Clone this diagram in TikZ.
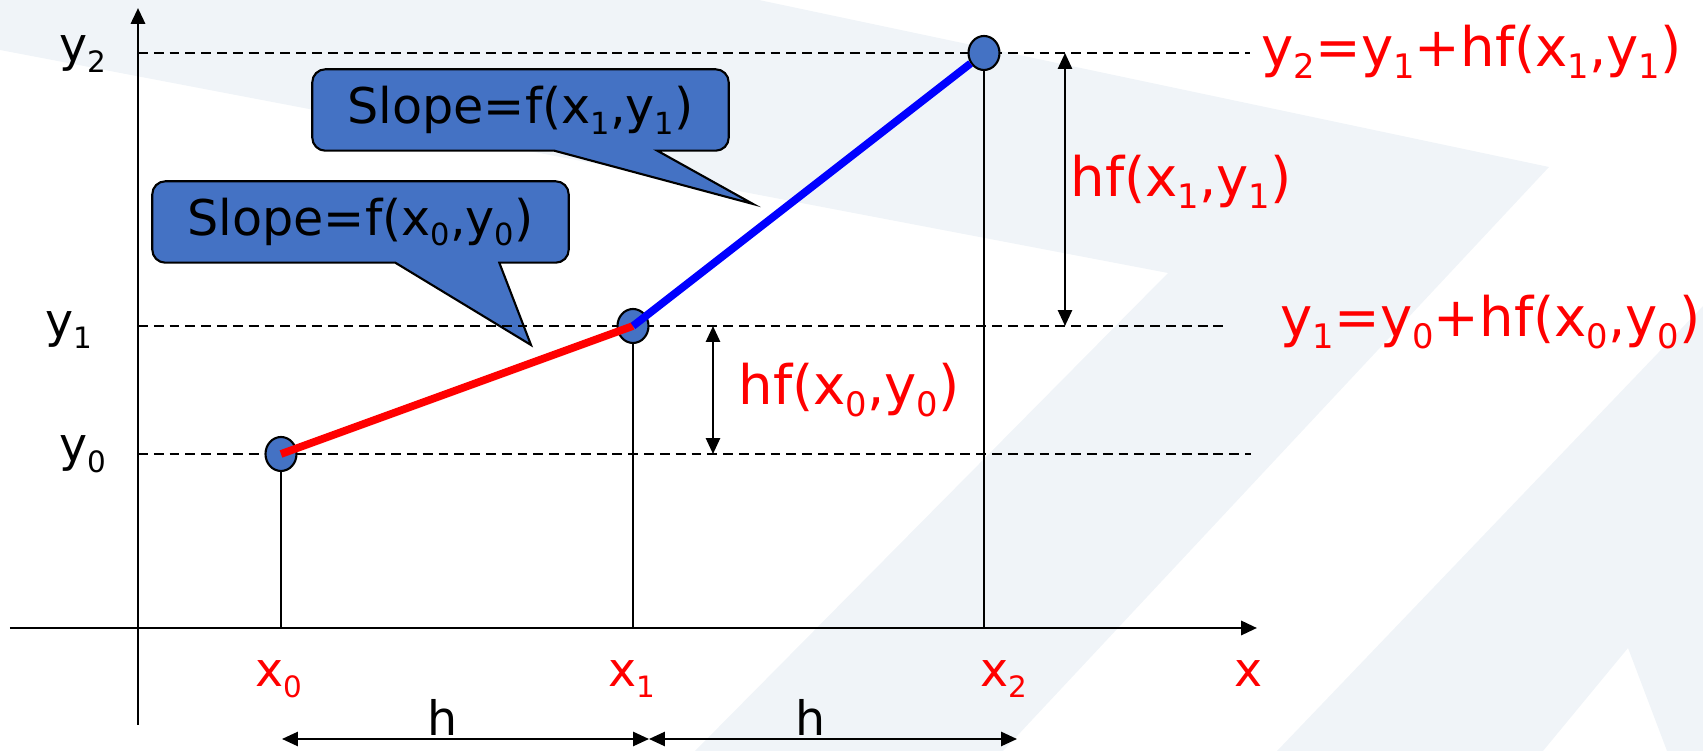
\documentclass[tikz,border=0pt]{standalone}
\usepackage{fontspec}
\setmainfont{DejaVu Sans}
\usepackage{graphicx}
\usetikzlibrary{arrows.meta, calc, shapes.geometric, backgrounds}
\definecolor{SlopeBlue}{HTML}{4472C4}
\definecolor{WaterMark}{HTML}{F0F4F8}
% small lowered index, as in the slide
\newcommand{\sbs}[1]{\raisebox{-0.22em}{\scalebox{0.62}{#1}}}

\begin{document}
\begin{tikzpicture}[>={Triangle[length=4.5pt, width=4pt]},
  lbl/.style={font=\fontsize{13.5}{16}\selectfont, inner sep=0pt},
  redlbl/.style={font=\fontsize{15.5}{18}\selectfont, text=red, inner sep=0pt},
  dot/.style={ellipse, draw, line width=0.6pt, fill=SlopeBlue,
    minimum width=0.31cm, minimum height=0.34cm, inner sep=0pt},
  slopebox/.style={minimum width=4.15cm, minimum height=0.8cm,
    font=\fontsize{14}{16}\selectfont},
  calloutline/.style={draw, line width=0.6pt, fill=SlopeBlue},
  guide/.style={dash pattern=on 2.8pt off 1.7pt, line width=0.55pt}]
  \useasboundingbox (-1.38,-1.23) rectangle (15.65,6.28);

  % Watermark in the background
  \begin{scope}[on background layer]
    \fill[WaterMark] (-1.38,6.28) -- (6.21,6.28) -- (14.11,4.61) -- (8.65,-1.23)
      -- (5.57,-1.23) -- (10.30,3.55) -- (-1.38,5.78) -- cycle;
    \fill[WaterMark] (15.65,3.22) -- (11.39,-1.23) -- (14.05,-1.23) -- (14.90,-0.20)
      -- (15.29,-1.23) -- (15.65,-1.23) -- cycle;
  \end{scope}

  % Euler points (x_i, y_i)
  \coordinate (o) at (0,0);
  \coordinate (c0) at (1.43,1.74);
  \coordinate (c1) at (4.95,3.02);
  \coordinate (c2) at (8.46,5.75);

  % Axes
  \coordinate (xstart) at (-1.28,0);
  \coordinate (xend) at (11.19,0);
  \coordinate (ystart) at (0,-0.97);
  \coordinate (yend) at (0,6.20);
  \draw[->, line width=0.8pt] (xstart) -- (xend);
  \draw[->, line width=0.8pt] (ystart) -- (yend);

  % Dashed levels y0, y1, y2
  \draw[guide] (o |- c2) -- ++(11.12,0);
  \draw[guide] (o |- c1) -- ++(10.85,0);
  \draw[guide] (o |- c0) -- ++(11.13,0);

  % Drop lines to the x axis
  \draw[line width=0.5pt] (c0) -- (c0 |- o);
  \draw[line width=0.5pt] (c1) -- (c1 |- o);
  \draw[line width=0.5pt] (c2) -- (c2 |- o);

  \node[dot] (p0) at (c0) {};
  \node[dot] (p1) at (c1) {};
  \node[dot] (p2) at (c2) {};

  % Two Euler steps
  \draw[red, line width=2.2pt] (p0.center) -- (p1.center);
  \draw[blue, line width=2.2pt] (p1.center) -- (p2);

  % Step heights hf(x,y)
  \coordinate (hfa) at (5.75,0);
  \coordinate (hfb) at (9.27,0);
  \draw[<->, line width=0.6pt] (hfa |- c1) -- (hfa |- c0);
  \draw[<->, line width=0.6pt] (hfb |- c2) -- (hfb |- c1);

  % Step widths h
  \coordinate (ha) at (1.44,-1.11);
  \coordinate (hm) at (5.11,-1.11);
  \coordinate (hb) at (8.79,-1.11);
  \draw[<->, line width=0.6pt] (ha) -- (hm);
  \draw[<->, line width=0.6pt] (hm) -- (hb);

  % Axis labels
  \node[lbl, anchor=base east] (ly2) at (-0.31,5.66) {y\sbs{2}};
  \node[lbl, anchor=base east] (ly1) at (-0.45,2.90) {y\sbs{1}};
  \node[lbl, anchor=base east] (ly0) at (-0.31,1.66) {y\sbs{0}};
  \node[lbl, text=red, anchor=base west] (lx0) at (1.17,-0.59) {x\sbs{0}};
  \node[lbl, text=red, anchor=base west] (lx1) at (4.70,-0.59) {x\sbs{1}};
  \node[lbl, text=red, anchor=base west] (lx2) at (8.42,-0.59) {x\sbs{2}};
  \node[lbl, text=red, anchor=base west] (lx) at (10.96,-0.59) {x};
  \node[lbl, anchor=base] (lh1) at (3.05,-1.08) {h};
  \node[lbl, anchor=base] (lh2) at (6.73,-1.08) {h};

  % Red annotations
  \node[redlbl, anchor=base west] (lhf0) at (6.00,2.23) {hf(x\sbs{0},y\sbs{0})};
  \node[redlbl, anchor=base west] (lhf1) at (9.32,4.31) {hf(x\sbs{1},y\sbs{1})};
  \node[redlbl, anchor=base west] (ly2eq) at (11.23,5.61)
    {y\sbs{2}=y\sbs{1}+hf(x\sbs{1},y\sbs{1})};
  \node[redlbl, anchor=base west] (ly1eq) at (11.42,2.91)
    {y\sbs{1}=y\sbs{0}+hf(x\sbs{0},y\sbs{0})};

  % Slope callouts (outline drawn behind the text)
  \node[slopebox] (s1) at (3.825,5.18) {Slope=f(x\sbs{1},y\sbs{1})};
  \coordinate (t1) at (6.15,4.24);
  \begin{scope}[on background layer]
    \draw[calloutline] ($(s1.south west)+(2.42,0)$) -- (t1)
      -- ($(s1.south west)+(3.45,0)$) -- ($(s1.south west)+(3.65,0)$)
      [rounded corners=0.13cm] -- (s1.south east) -- (s1.north east)
      -- (s1.north west) -- (s1.south west) -- ($(s1.south west)+(0.5,0)$)
      [sharp corners] -- cycle;
  \end{scope}

  \node[slopebox] (s2) at (2.225,4.06) {Slope=f(x\sbs{0},y\sbs{0})};
  \coordinate (t2) at (3.93,2.83);
  \begin{scope}[on background layer]
    \draw[calloutline] ($(s2.south west)+(2.43,0)$) -- (t2)
      -- ($(s2.south west)+(3.47,0)$) -- ($(s2.south west)+(3.67,0)$)
      [rounded corners=0.13cm] -- (s2.south east) -- (s2.north east)
      -- (s2.north west) -- (s2.south west) -- ($(s2.south west)+(0.5,0)$)
      [sharp corners] -- cycle;
  \end{scope}
\end{tikzpicture}
\end{document}
